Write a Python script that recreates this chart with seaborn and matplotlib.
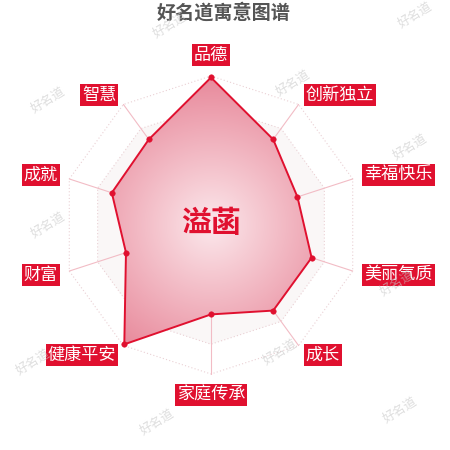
import numpy as np
import pandas as pd
import matplotlib
matplotlib.use("Agg")
import matplotlib.pyplot as plt
import seaborn as sns
from matplotlib.patches import Polygon
from matplotlib.colors import LinearSegmentedColormap

# ---- data ----
categories = ["品德", "创新独立", "幸福快乐", "美丽气质", "成长",
              "家庭传承", "健康平安", "财富", "成就", "智慧"]
values = [99, 71, 61, 71, 71, 60, 99, 60, 70, 71]
max_value = 100
ring_levels = [20, 40, 60, 80, 100]
name_text = "溢菡"
title_text = "好名道寓意图谱"
watermark_text = "好名道"

sns.set_theme(style="white")
plt.rcParams['font.family'] = ['Noto Sans CJK SC', 'DejaVu Sans']

RED = "#e0102f"
PX = 1.49  # pixels per value unit
W = H = 450
cx, cy = 211, 225

fig = plt.figure(figsize=(4.5, 4.5), dpi=100)
ax = fig.add_axes([0, 0, 1, 1])
ax.set_xlim(-cx / PX, (W - cx) / PX)
ax.set_ylim(-(H - cy) / PX, cy / PX)
ax.set_aspect('equal')
ax.axis('off')

n = len(categories)
theta = np.arange(n) * 2 * np.pi / n  # clockwise from top

def xy(r, t):
    return r * np.sin(t), r * np.cos(t)

# alternating split areas (very faint)
for i in range(len(ring_levels) - 1, -1, -1):
    r = ring_levels[i]
    px, py = xy(r, theta)
    col = "#faf7f7" if i % 2 == 1 else "white"
    ax.add_patch(Polygon(np.column_stack([px, py]), closed=True,
                         facecolor=col, edgecolor="none", zorder=0))

# rings
for r in ring_levels:
    px, py = xy(r, np.append(theta, theta[0]))
    ax.plot(px, py, ls=(0, (1, 2)), color="#ead0d4", lw=0.8, zorder=1)

# spokes
for t in theta:
    ex, ey = xy(max_value, t)
    ax.plot([0, ex], [0, ey], color="#f2bcc5", lw=0.8, zorder=1)

# data polygon with radial gradient
vx, vy = xy(np.array(values, dtype=float), theta)
poly = Polygon(np.column_stack([vx, vy]), closed=True, facecolor="none",
               edgecolor="none", zorder=2)
ax.add_patch(poly)
g = np.linspace(-max_value, max_value, 400)
GX, GY = np.meshgrid(g, g)
RR = np.clip(np.sqrt(GX ** 2 + GY ** 2) / max_value, 0, 1)
cmap = LinearSegmentedColormap.from_list(
    "rg", [(0.0, "#fbe8ec"), (0.3, "#f6cbd3"), (1.0, "#e8899b")])
im = ax.imshow(RR, extent=[-max_value, max_value, -max_value, max_value],
               origin="lower", cmap=cmap, vmin=0, vmax=1, zorder=2,
               interpolation="bilinear")
im.set_clip_path(poly)

df = pd.DataFrame({"x": np.append(vx, vx[0]), "y": np.append(vy, vy[0]),
                   "o": np.arange(n + 1)})
sns.lineplot(data=df, x="x", y="y", sort=False, estimator=None, color=RED,
             lw=1.4, ax=ax, zorder=3)
sns.scatterplot(data=df.iloc[:n], x="x", y="y", color=RED, s=16,
                edgecolor=RED, ax=ax, zorder=4, legend=False)
ax.set_xlim(-cx / PX, (W - cx) / PX)
ax.set_ylim(-(H - cy) / PX, cy / PX)
ax.axis('off')

# category labels
lab_r = 161 / PX
for cat, t in zip(categories, theta):
    lx, ly = xy(lab_r, t)
    s = np.sin(t)
    if abs(s) < 1e-6:
        ha = "center"
        va = "bottom" if np.cos(t) > 0 else "top"
    else:
        ha = "left" if s > 0 else "right"
        va = "center"
    ax.text(lx, ly, cat, ha=ha, va=va, color="white", fontsize=12.3,
            zorder=6,
            bbox=dict(boxstyle="square,pad=0.12", facecolor=RED,
                      edgecolor="none"))

# center name
ax.text(0, 2 / PX, name_text, ha="center", va="center", color=RED,
        fontsize=21.5, fontweight="bold", zorder=6)

# title
fig.text(224 / W, 1 - 13 / H, title_text, ha="center", va="center",
         color="#555555", fontsize=13.8, fontweight="bold")

# watermarks
wm_pos = [(170, 25), (415, 15), (48, 100), (293, 83), (410, 147),
          (48, 225), (397, 283), (33, 362), (280, 352), (157, 422),
          (400, 410)]
for (wx, wy) in wm_pos:
    fig.text(wx / W, 1 - wy / H, watermark_text, ha="center", va="center",
             rotation=32, color="#c8c8c8", alpha=0.6, fontsize=9,
             fontstyle="italic", zorder=10)

fig.savefig("out.png", dpi=100)
